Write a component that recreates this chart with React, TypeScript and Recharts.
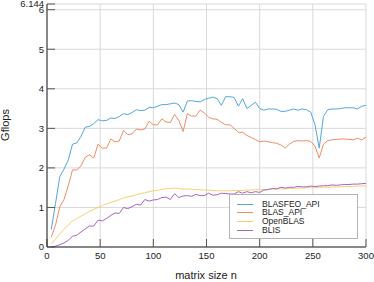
import { LineChart, Line, XAxis, YAxis, CartesianGrid, Legend } from 'recharts';

const sizes = [
  4, 8, 12, 16, 20, 24, 28, 32, 36, 40, 44, 48, 52, 56, 60, 64, 68, 72, 76, 80,
  84, 88, 92, 96, 100, 104, 108, 112, 116, 120, 124, 128, 132, 136, 140, 144, 148, 152, 156, 160,
  164, 168, 172, 176, 180, 184, 188, 192, 196, 200, 204, 208, 212, 216, 220, 224, 228, 232, 236, 240,
  244, 248, 252, 256, 260, 264, 268, 272, 276, 280, 284, 288, 292, 296, 300,
];

const blasfeoApi = [
  0.44, 1.1, 1.78, 1.97, 2.2, 2.6, 2.63, 2.8, 3.03, 3.05, 3.12, 3.22, 3.19, 3.2, 3.26, 3.25, 3.3, 3.37, 3.35, 3.4,
  3.47, 3.45, 3.46, 3.53, 3.52, 3.56, 3.6, 3.6, 3.62, 3.64, 3.6, 3.41, 3.69, 3.7, 3.68, 3.67, 3.73, 3.76, 3.79, 3.75,
  3.58, 3.8, 3.8, 3.78, 3.56, 3.75, 3.5, 3.58, 3.66, 3.5, 3.46, 3.49, 3.49, 3.48, 3.43, 3.43, 3.46, 3.49, 3.46, 3.49,
  3.47, 3.41, 3.1, 2.5, 3.3, 3.47, 3.49, 3.49, 3.5, 3.52, 3.52, 3.52, 3.49, 3.56, 3.58,
];

const blasApi = [
  0.25, 0.55, 1.02, 1.2, 1.55, 1.95, 1.95, 2.05, 2.27, 2.33, 2.25, 2.6, 2.5, 2.5, 2.73, 2.66, 2.68, 2.95, 2.84, 2.86,
  2.98, 2.96, 2.98, 3.18, 3.09, 3.09, 3.24, 3.16, 3.15, 3.35, 3.2, 2.92, 3.37, 3.31, 3.31, 3.46, 3.39, 3.28, 3.24, 3.23,
  3.15, 3.09, 3.09, 3.0, 2.9, 2.9, 2.82, 2.77, 2.72, 2.66, 2.68, 2.66, 2.64, 2.62, 2.58, 2.5, 2.6, 2.67, 2.69, 2.68,
  2.69, 2.67, 2.55, 2.25, 2.6, 2.69, 2.71, 2.72, 2.73, 2.73, 2.72, 2.71, 2.75, 2.71, 2.78,
];

const openBlas = [
  0.07, 0.2, 0.33, 0.45, 0.55, 0.66, 0.72, 0.78, 0.84, 0.9, 0.95, 1.0, 1.05, 1.09, 1.13, 1.16, 1.2, 1.24, 1.27, 1.29,
  1.32, 1.35, 1.37, 1.4, 1.42, 1.43, 1.46, 1.47, 1.48, 1.49, 1.48, 1.46, 1.47, 1.46, 1.45, 1.45, 1.44, 1.44, 1.43, 1.42,
  1.42, 1.42, 1.42, 1.43, 1.43, 1.43, 1.44, 1.44, 1.45, 1.45, 1.45, 1.46, 1.46, 1.47, 1.47, 1.47, 1.48, 1.48, 1.49, 1.49,
  1.5, 1.5, 1.5, 1.51, 1.51, 1.51, 1.52, 1.52, 1.52, 1.53, 1.53, 1.53, 1.54, 1.54, 1.55,
];

const blis = [
  0.0, 0.02, 0.06, 0.1, 0.17, 0.27, 0.3, 0.38, 0.46, 0.53, 0.53, 0.68, 0.66, 0.72, 0.8, 0.86, 0.85, 1.0, 0.97, 1.02,
  1.08, 1.06, 1.2, 1.16, 1.19, 1.2, 1.25, 1.26, 1.2, 1.35, 1.25, 1.29, 1.3, 1.28, 1.33, 1.3, 1.3, 1.36, 1.31, 1.32,
  1.36, 1.35, 1.34, 1.34, 1.4, 1.36, 1.4, 1.37, 1.4, 1.38, 1.44, 1.45, 1.48, 1.47, 1.51, 1.49, 1.51, 1.51, 1.53, 1.52,
  1.52, 1.54, 1.53, 1.54, 1.55, 1.55, 1.57, 1.56, 1.57, 1.58, 1.58, 1.59, 1.59, 1.6, 1.61,
];

const xTicks = [0, 50, 100, 150, 200, 250, 300];
const yTicks = [0, 1, 2, 3, 4, 5, 6, 6.144];

const series = [
  { key: 'blasfeo', name: 'BLASFEO_API', color: '#55a5df' },
  { key: 'blas', name: 'BLAS_API', color: '#f08c64' },
  { key: 'openblas', name: 'OpenBLAS', color: '#f8d06e' },
  { key: 'blis', name: 'BLIS', color: '#a565c2' },
];

const data = sizes.map((n, i) => ({
  n,
  blasfeo: blasfeoApi[i],
  blas: blasApi[i],
  openblas: openBlas[i],
  blis: blis[i],
}));

const font = '"Liberation Sans", Arial, Helvetica, sans-serif';
const tickStyle = { fontSize: 9.5, fill: '#222', fontFamily: font };

function LegendBox() {
  return (
    <div
      style={{
        position: 'relative',
        width: 127,
        height: 43,
        border: '1px solid #b4b4b4',
        background: '#fff',
        fontFamily: font,
        fontSize: 8.5,
        color: '#222',
      }}
    >
      {series.map((s, i) => (
        <div
          key={s.key}
          style={{ position: 'absolute', left: 0, top: 4.5 + i * 8.67, height: 9, display: 'flex', alignItems: 'center' }}
        >
          <div style={{ marginLeft: 7, width: 16, height: 1, background: s.color }} />
          <span style={{ marginLeft: 9, lineHeight: '9px' }}>{s.name}</span>
        </div>
      ))}
    </div>
  );
}

export default function App() {
  return (
    <div style={{ position: 'absolute', left: 0, top: 0, width: 374, height: 282, background: '#fff', fontFamily: font }}>
      <LineChart width={374} height={282} data={data} margin={{ top: 4, right: 8, left: 0, bottom: 0 }}>
        <CartesianGrid stroke="#d9d9d9" strokeWidth={1} />
        <XAxis
          dataKey="n"
          type="number"
          domain={[0, 300]}
          ticks={xTicks}
          interval={0}
          height={35}
          tick={tickStyle}
          tickSize={-8}
          tickMargin={13}
          tickLine={{ stroke: '#555' }}
          axisLine={{ stroke: '#222' }}
          label={{
            content: () => (
              <text x={206} y={279} textAnchor="middle" fontSize={11} fill="#222" fontFamily={font}>
                matrix size n
              </text>
            ),
          }}
        />
        <YAxis
          type="number"
          domain={[0, 6.144]}
          ticks={yTicks}
          interval={0}
          width={47}
          tick={tickStyle}
          tickSize={-8}
          tickMargin={11}
          tickLine={{ stroke: '#555' }}
          axisLine={{ stroke: '#222' }}
          label={{
            content: () => (
              <text x={9} y={125} transform="rotate(-90 9 125)" textAnchor="middle" fontSize={11} fill="#222" fontFamily={font}>
                Gflops
              </text>
            ),
          }}
        />
        {series.map((s) => (
          <Line
            key={s.key}
            type="linear"
            dataKey={s.key}
            name={s.name}
            stroke={s.color}
            strokeWidth={1}
            dot={false}
            isAnimationActive={false}
          />
        ))}
        <Legend
          layout="vertical"
          align="center"
          verticalAlign="middle"
          wrapperStyle={{ left: 229, top: 194, width: 129, height: 45 }}
          content={() => <LegendBox />}
        />
      </LineChart>
    </div>
  );
}
